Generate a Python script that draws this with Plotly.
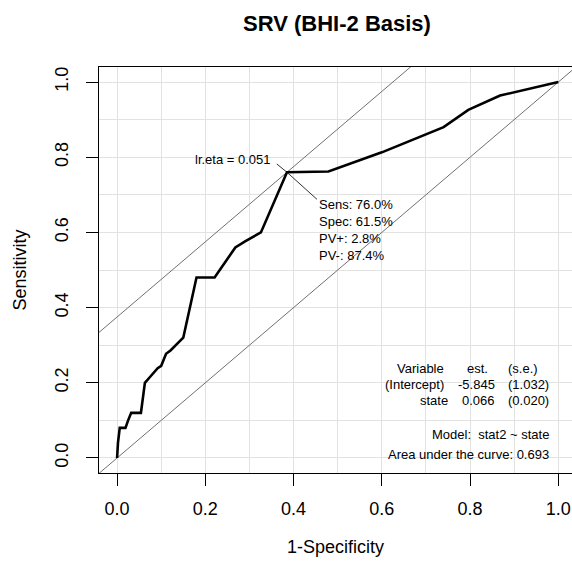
import plotly.graph_objects as go

# ROC curve points (1-Specificity, Sensitivity)
one_minus_spec = [0.0, 0.002, 0.006, 0.019, 0.025, 0.032, 0.054, 0.063, 0.075, 0.092, 0.100,
                  0.111, 0.121, 0.150, 0.180, 0.221, 0.268, 0.291, 0.326, 0.347, 0.385,
                  0.479, 0.600, 0.740, 0.796, 0.868, 1.0]
sensitivity = [0.0, 0.04, 0.08, 0.08, 0.10, 0.12, 0.12, 0.20, 0.216, 0.239, 0.245,
               0.277, 0.286, 0.32, 0.48, 0.48, 0.56, 0.577, 0.60, 0.657, 0.76,
               0.762, 0.813, 0.880, 0.926, 0.964, 1.0]

# optimal cut-point
opt_sens = 0.760
opt_spec = 0.615
opt_label = "lr.eta = 0.051"
opt_stats = ["Sens: 76.0%", "Spec: 61.5%", "PV+: 2.8%", "PV-: 87.4%"]

# model table
table_vars = ["Variable", "(Intercept)", "state"]
table_est = ["est.", "-5.845", "0.066"]
table_se = ["(s.e.)", "(1.032)", "(0.020)"]
model_text = "Model:  stat2 ~ state"
auc_text = "Area under the curve: 0.693"

tick_vals = [0.0, 0.2, 0.4, 0.6, 0.8, 1.0]
tick_text = ["0.0", "0.2", "0.4", "0.6", "0.8", "1.0"]

FONT = "Liberation Sans, Arial, sans-serif"
GRID = "#e2e2e2"
xr = [-0.041, 1.031]
yr = [-0.04, 1.04]

fig = go.Figure()

opt_x = 1 - opt_spec
intercept = opt_sens - opt_x
# diagonal y = x and tangent line through the optimal point
fig.add_trace(go.Scatter(x=[xr[0] - 0.1, xr[1] + 0.1], y=[xr[0] - 0.1, xr[1] + 0.1],
                         mode="lines", line=dict(color="#707070", width=1), hoverinfo="skip"))
fig.add_trace(go.Scatter(x=[xr[0] - 0.1, xr[1] + 0.1],
                         y=[xr[0] - 0.1 + intercept, xr[1] + 0.1 + intercept],
                         mode="lines", line=dict(color="#707070", width=1), hoverinfo="skip"))
# pointer segments
fig.add_trace(go.Scatter(x=[opt_x - 0.023, opt_x, opt_x + 0.068],
                         y=[opt_sens + 0.022, opt_sens, opt_sens - 0.072],
                         mode="lines", line=dict(color="#333333", width=1), hoverinfo="skip"))
# ROC curve
fig.add_trace(go.Scatter(x=one_minus_spec, y=sensitivity, mode="lines",
                         line=dict(color="black", width=2.6)))

ann = []
ann.append(dict(x=opt_x - 0.031, y=opt_sens + 0.033, text=opt_label, xanchor="right",
                yanchor="middle", showarrow=False, font=dict(size=13, color="black", family=FONT)))
stat_y = [0.673, 0.628, 0.584, 0.539]
for s, yy in zip(opt_stats, stat_y):
    ann.append(dict(x=opt_x + 0.068, y=yy, text=s, xanchor="left", yanchor="middle",
                    showarrow=False, font=dict(size=13, color="black", family=FONT)))

row_y = [0.239, 0.196, 0.152]
col1_x = [0.745, 0.745, 0.755]
col2_x = [0.845, 0.860, 0.860]
col3_x = [0.959, 0.983, 0.983]
for i in range(3):
    for txt, xx in ((table_vars[i], col1_x[i]), (table_est[i], col2_x[i]), (table_se[i], col3_x[i])):
        ann.append(dict(x=xx, y=row_y[i], text=txt, xanchor="right", yanchor="middle",
                        showarrow=False, font=dict(size=13, color="black", family=FONT)))
ann.append(dict(x=0.983, y=0.063, text=model_text, xanchor="right", yanchor="middle",
                showarrow=False, font=dict(size=13, color="black", family=FONT)))
ann.append(dict(x=0.983, y=0.010, text=auc_text, xanchor="right", yanchor="middle",
                showarrow=False, font=dict(size=13, color="black", family=FONT)))

axis_common = dict(
    tickvals=tick_vals, ticktext=tick_text, ticks="outside", ticklen=12, tickwidth=1,
    tickcolor="black", showline=True, linecolor="black", linewidth=1,
    showgrid=True, gridcolor=GRID, gridwidth=1, zeroline=False, automargin=False,
    tickfont=dict(size=18, color="black", family=FONT),
    minor=dict(dtick=0.1, tick0=0, showgrid=True, gridcolor=GRID, gridwidth=1, ticks=""),
)

fig.update_layout(
    width=572, height=567,
    margin=dict(l=99, r=0, t=67, b=94),
    paper_bgcolor="white", plot_bgcolor="white",
    showlegend=False,
    title=dict(text="<b>SRV (BHI-2 Basis)</b>", x=337 / 572, xref="container",
               y=1 - 23 / 567, yref="container",
               yanchor="middle", font=dict(size=22, color="black", family=FONT)),
    xaxis=dict(range=xr, mirror=True, ticklabelstandoff=7,
               title=dict(text="1-Specificity", standoff=22,
                          font=dict(size=18, color="black", family=FONT)),
               **axis_common),
    yaxis=dict(range=yr, tickangle=-90, ticklabelstandoff=11,
               title=dict(text="Sensitivity", standoff=20,
                          font=dict(size=18, color="black", family=FONT)),
               **axis_common),
    annotations=ann,
)

fig.write_html("out.html", config={"displayModeBar": False},
               post_script="document.body.style.margin='0px';document.body.style.overflow='hidden';")
